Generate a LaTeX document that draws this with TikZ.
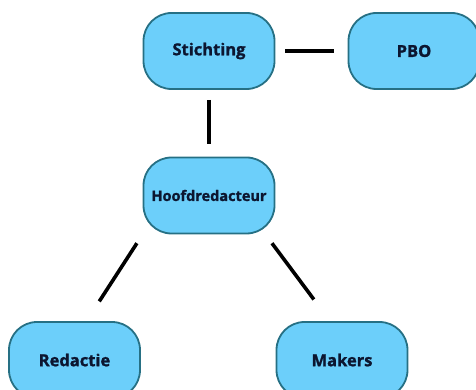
\documentclass[tikz,border=0pt]{standalone}
\usepackage{fontspec}
\setmainfont{Open Sans}[BoldFeatures={FakeBold=1.3}]
\usepackage{tikz}
\usetikzlibrary{arrows.meta,shapes}
\definecolor{boxfill}{RGB}{108,207,250}
\definecolor{boxline}{RGB}{38,112,132}
\definecolor{boxtext}{RGB}{12,22,48}

\begin{document}
\begin{tikzpicture}[x=1pt,y=1pt,
box/.style={draw=boxline,line width=1.8pt,fill=boxfill,rounded corners=28pt,
 minimum width=131pt,minimum height=76pt,text=boxtext,font=\bfseries\fontsize{16.5}{19}\selectfont},
link/.style={line width=3.6pt,black}]
\useasboundingbox (0,0) rectangle (476,390);
\node[box] (stichting) at (209,339) {Stichting};
\node[box] (pbo) at (414,339) {PBO};
\node[box,font=\bfseries\fontsize{14.5}{17}\selectfont] (hoofd) at (209,194.5) {Hoofdredacteur};
\node[box] (redactie) at (74.5,30) {Redactie};
\node[box] (makers) at (342,30) {Makers};
%\coordinate (m) at (209,300);
\draw[link,shorten <=10pt,shorten >=14pt] (stichting.east)--(pbo.west);
\draw[link,shorten <=10pt,shorten >=13pt] (stichting.south)--(hoofd.north);
\draw[link,shorten <=10.5pt,shorten >=23.5pt] (hoofd.south west)--([xshift=12pt]redactie.north);
\draw[link,shorten <=11pt,shorten >=27pt] ([xshift=-10pt]hoofd.south east)--([xshift=-12pt]makers.north);
\end{tikzpicture}
\end{document}
